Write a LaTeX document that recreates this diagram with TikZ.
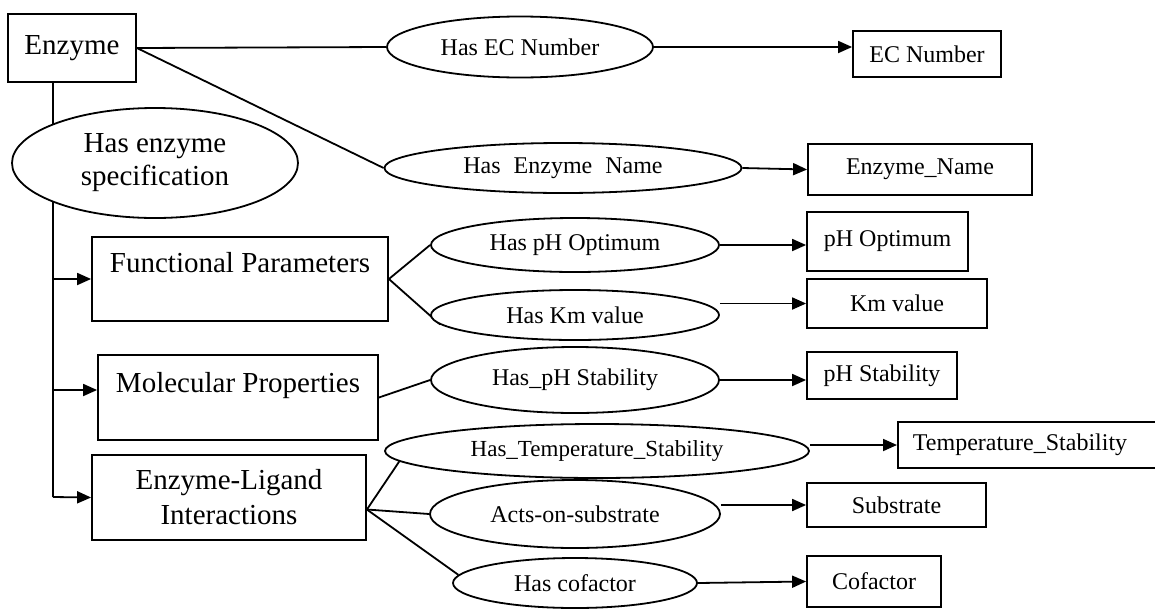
\documentclass[tikz,border=0pt]{standalone}
\usepackage{fontspec}
\setmainfont{Liberation Serif}
\usetikzlibrary{shapes.geometric,arrows.meta,backgrounds}
\begin{document}
\begin{tikzpicture}[x=0.5pt,y=-0.5pt,
  every node/.style={inner sep=0pt},
  bigtxt/.style={font=\fontsize{14.5}{17}\selectfont},
  smalltxt/.style={font=\fontsize{12}{14}\selectfont},
  entity/.style={draw, line width=0.9pt, fill=white, rectangle, smalltxt},
  relation/.style={draw, line width=0.9pt, fill=white, ellipse, smalltxt, align=center},
  link/.style={line width=0.9pt},
  arrowlink/.style={link, -{Triangle[length=7pt,width=6pt]}},
]
\clip (0,0) rectangle (1155,611);
\useasboundingbox (0,0) rectangle (1155,611);

% class boxes on the left
\node[entity, bigtxt, minimum width=64pt, minimum height=34pt] (enz) at (72,48) {Enzyme};
\node[relation, bigtxt, font=\fontsize{14.5}{16.5}\selectfont, minimum width=143pt, minimum height=55pt] (spec) at (155,163) {Has enzyme\\specification};
\node[entity, bigtxt, minimum width=148pt, text height=17.5pt, text depth=24.5pt] (fp) at (240,279) {Functional Parameters};
\node[entity, bigtxt, minimum width=140pt, text height=18.5pt, text depth=24pt] (mp) at (238,397.5) {Molecular Properties};
\node[entity, bigtxt, align=center, font=\fontsize{14.5}{17.5}\selectfont, minimum width=137pt, minimum height=42.5pt] (el) at (229,497.5) {Enzyme-Ligand\\Interactions};

% relations
\node[relation, minimum width=133pt, minimum height=30.5pt] (ec) at (520,47) {Has EC Number};
\node[relation, minimum width=178.5pt, minimum height=25pt] (nm) at (563,168) {Has\hspace{6.5pt}Enzyme\hspace{6.5pt}Name};
\node[relation, minimum width=144pt, minimum height=27pt] (pho) at (575,245) {Has pH Optimum};
\node[relation, minimum width=144pt, minimum height=25pt] (km) at (575,315) {Has Km value};
\node[relation, minimum width=144pt, minimum height=33pt] (phs) at (575,380) {Has\_pH Stability};
\node[relation, font=\fontsize{11.5}{13}\selectfont, minimum width=212pt, minimum height=27pt] (ts) at (597,451) {Has\_Temperature\_Stability};
\node[relation, minimum width=145pt, minimum height=34pt] (acts) at (575,514) {Acts-on-substrate};
\node[relation, minimum width=122pt, minimum height=25pt] (cof) at (575,583) {Has cofactor};

% value boxes on the right
\node[entity, minimum width=74pt, minimum height=23pt] (ecn) at (927,54) {EC Number};
\node[entity, minimum width=112pt, minimum height=25.5pt] (name) at (920,169.5) {Enzyme\_Name};
\node[entity, minimum width=80.5pt, minimum height=29.5pt] (phob) at (887.5,241.5) {pH Optimum};
\node[entity, minimum width=90pt, minimum height=24.5pt] (kmv) at (897,303.5) {Km value};
\node[entity, minimum width=75pt, minimum height=23.5pt] (phsb) at (882,375.5) {pH Stability};
\node[entity, anchor=west, inner xsep=7.5pt, text width=119pt, align=left, minimum height=23pt] (tsb) at (897,445) {Temperature\_Stability};
\node[entity, minimum width=89.5pt, minimum height=22pt] (sub) at (896.5,505) {Substrate};
\node[entity, minimum width=67pt, minimum height=25.5pt] (cofb) at (874,581.5) {Cofactor};

\coordinate (trunk) at (53,497);
\coordinate (mpin) at (53,390);
\coordinate (elp) at ([yshift=-6pt]el.east);

\begin{pgfonlayer}{background}
  % specification trunk
  \draw[link] (trunk |- enz.south) -- (trunk);
  \draw[arrowlink] (trunk) -- (el.west);
  \draw[arrowlink] (trunk |- fp.west) -- (fp.west);
  \draw[arrowlink] (mpin) -- (mpin -| mp.west);

  % enzyme attributes
  \draw[link] (enz.east) -- (ec.west);
  \draw[arrowlink] (ec.east) -- (ec.east -| ecn.west);
  \draw[link] (enz.east) -- (nm.west);
  \draw[arrowlink] (nm.east) -- (name.west);

  % functional parameters
  \draw[link] (fp.east) -- (pho.west);
  \draw[link] (fp.east) -- (km.184);
  \draw[arrowlink] (pho.east) -- (pho.east -| phob.west);
  \draw[arrowlink] (km.east |- kmv.west) -- (kmv.west);

  % molecular properties
  \draw[link] (mp.east) -- (phs.west);
  \draw[arrowlink] (phs.east) -- (phs.east -| phsb.west);

  % enzyme-ligand interactions
  \draw[link] (elp) -- (ts.183);
  \draw[link] (elp) -- (acts.west);
  \draw[link] (elp) -- (cof.176);
  \draw[arrowlink] (ts.east |- tsb.west) -- (tsb.west);
  \draw[arrowlink] (acts.east |- sub.west) -- (sub.west);
  \draw[arrowlink] (cof.east) -- (cofb.west);
\end{pgfonlayer}
\end{tikzpicture}
\end{document}
